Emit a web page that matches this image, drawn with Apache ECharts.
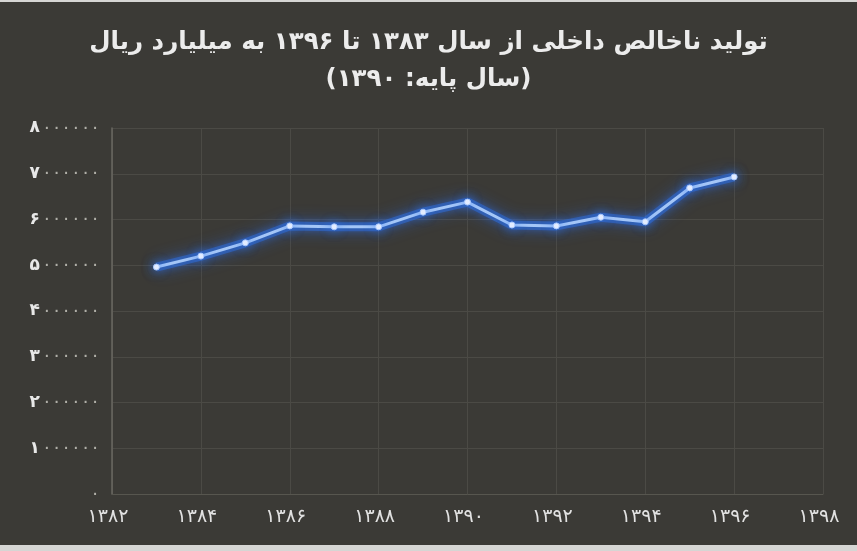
<!DOCTYPE html>
<html>
<head>
<meta charset="utf-8">
<script src="https://cdn.jsdelivr.net/npm/echarts@6/dist/echarts.min.js"></script>
<style>
    html, body { margin: 0; padding: 0; background: #d6d6d4; }
    #main { position: absolute; left: 0; top: 2px; width: 857px; height: 543px; }
</style>
</head>
<body>
<div id="main"></div>
<script>
// 数据
var years = [1383, 1384, 1385, 1386, 1387, 1388, 1389, 1390, 1391, 1392, 1393, 1394, 1395, 1396];
var gdp = [4960000, 5200000, 5490000, 5860000, 5840000, 5840000, 6160000, 6380000, 5880000, 5860000, 6050000, 5950000, 6690000, 6930000];
var xTicks = [1382, 1398, 2];          // min, max, interval
var yTicks = [0, 8000000, 1000000];    // min, max, interval

// 阿拉伯数字 -> 波斯数字
function fa(n) {
    return String(n).replace(/[0-9]/g, function (d) {
        return '۰۱۲۳۴۵۶۷۸۹'.charAt(+d);
    });
}

var points = [];
for (var i = 0; i < years.length; i++) {
    points.push([years[i], gdp[i]]);
}

var chart = echarts.init(document.getElementById('main'));
var option = {
    backgroundColor: '#3b3a36',
    title: {
        text: 'تولید ناخالص داخلی از سال ' + fa(1383) + ' تا ' + fa(1396) + ' به میلیارد ریال\n(سال پایه: ' + fa(1390) + ')',
        left: 'center',
        top: 17,
        textStyle: {
            color: '#ececec',
            fontFamily: 'DejaVu Sans',
            fontSize: 24.5,
            fontWeight: 'bold',
            lineHeight: 37
        }
    },
    grid: {
        left: 112,
        right: 34,
        top: 126,
        bottom: 51
    },
    xAxis: {
        type: 'value',
        min: xTicks[0],
        max: xTicks[1],
        interval: xTicks[2],
        axisLine: { show: true, lineStyle: { color: '#57564f' } },
        axisTick: { show: false },
        splitLine: { show: true, lineStyle: { color: '#4b4a45', width: 1 } },
        axisLabel: {
            color: '#e2e2e2',
            fontFamily: 'DejaVu Sans',
            fontSize: 19,
            margin: 14,
            padding: [0, 8, 0, 0],
            formatter: function (v) { return fa(v); }
        }
    },
    yAxis: {
        type: 'value',
        min: yTicks[0],
        max: yTicks[1],
        interval: yTicks[2],
        axisLine: { show: true, lineStyle: { color: '#6a6962', width: 1.5 } },
        axisTick: { show: false },
        splitLine: { show: true, lineStyle: { color: '#4b4a45', width: 1 } },
        axisLabel: {
            margin: 12,
            formatter: function (v) {
                var s = fa(v);
                if (v === 0) return '{z|' + s + '}';
                return '{d|' + s.charAt(0) + '}{z|' + s.slice(1) + '}';
            },
            rich: {
                d: { color: '#e8e8e8', fontFamily: 'DejaVu Sans', fontSize: 17, fontWeight: 'bold' },
                z: { color: '#b0afa8', fontFamily: 'DejaVu Sans', fontSize: 18, padding: [0, 0, 0, 2] }
            }
        }
    },
    series: [{
        // 外发光
        type: 'line',
        data: points,
        symbol: 'none',
        silent: true,
        lineStyle: {
            width: 9,
            color: 'rgba(45,115,235,0.45)',
            shadowColor: 'rgba(40,110,255,1)',
            shadowBlur: 16
        },
        z: 3
    }, {
        type: 'line',
        data: points,
        symbol: 'circle',
        symbolSize: 6,
        lineStyle: {
            width: 3,
            color: '#a4c6f7',
            shadowColor: 'rgba(50,120,255,1)',
            shadowBlur: 8
        },
        itemStyle: {
            color: '#f2f6ff',
            borderColor: '#a8c8ff',
            borderWidth: 1,
            shadowColor: 'rgba(50,120,255,1)',
            shadowBlur: 12
        },
        z: 5
    }]
};

if (option && typeof option === "object") {
    chart.setOption(option);
}
</script>
</body>
</html>
